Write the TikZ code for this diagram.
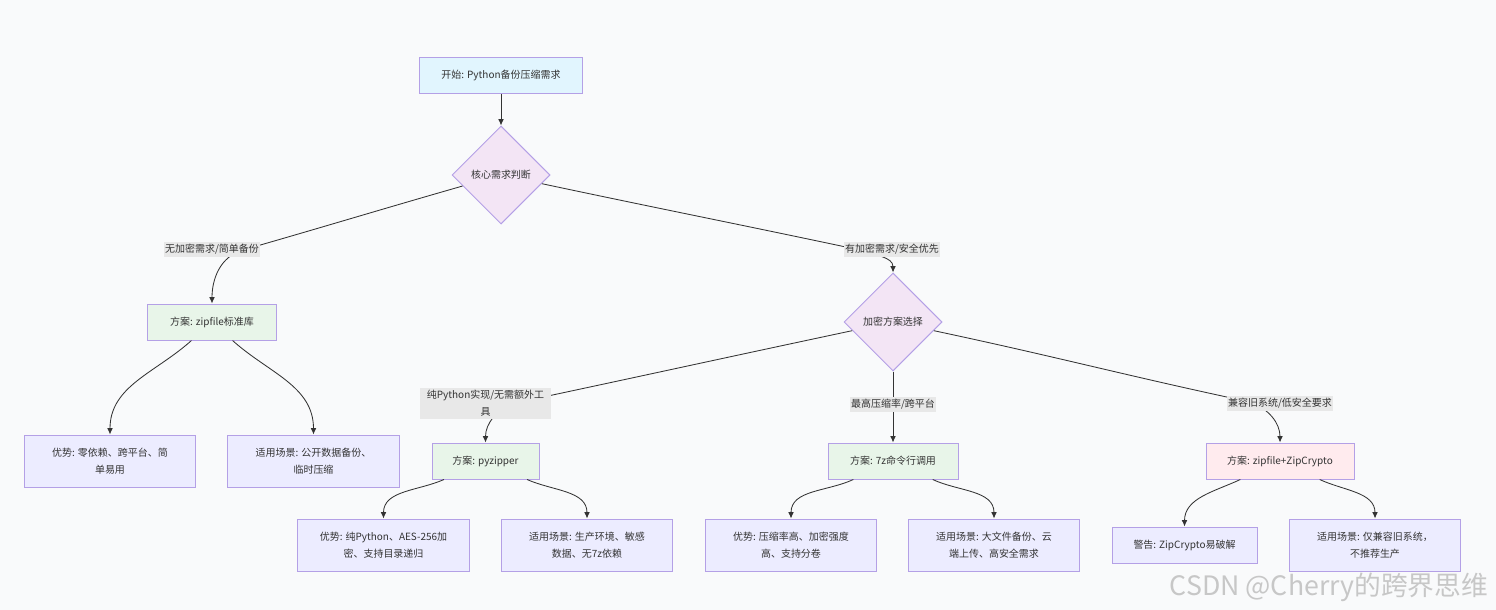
\documentclass[tikz,border=0pt]{standalone}
\usepackage{fontspec}
\setmainfont{Noto Sans CJK SC}
\usetikzlibrary{shapes.geometric, arrows.meta}

\definecolor{bgcol}{HTML}{F9FAFB}
\definecolor{edgecol}{HTML}{333333}
\definecolor{textcol}{HTML}{333333}
\definecolor{bordercol}{HTML}{B4A0E6}
\definecolor{startfill}{HTML}{E1F5FE}
\definecolor{decfill}{HTML}{F3E5F5}
\definecolor{planfill}{HTML}{E8F5E9}
\definecolor{riskfill}{HTML}{FFEBEE}
\definecolor{leaffill}{HTML}{ECECFF}
\definecolor{lblfill}{HTML}{E8E8E8}

\begin{document}
\begin{tikzpicture}[x=0.025cm, y=0.025cm, % 1 unit = 1 px of the reference
    font=\fontsize{7.1}{12}\selectfont,
    box/.style={draw=bordercol, line width=0.7pt, minimum height=0.9cm, inner sep=0pt, align=center, text=textcol},
    leaf/.style={box, fill=leaffill, minimum width=4.275cm, minimum height=1.3cm},
    decision/.style={diamond, aspect=1, draw=bordercol, fill=decfill, line width=0.7pt, minimum size=2.45cm, inner sep=0pt, text=textcol},
    lbl/.style={fill=lblfill, inner xsep=1pt, inner ysep=1.5pt, align=center, text=textcol},
    link/.style={draw=edgecol, line width=0.6pt, -{Latex[length=4.5pt,width=4pt]}}]

    % Background
    \fill[bgcol] (0,0) rectangle (1496,-610);
    \useasboundingbox (0,0) rectangle (1496,-610);

    % Start and first decision
    \node[box, fill=startfill, minimum width=4.05cm] (start) at (501,-75.5) {开始: Python备份压缩需求};
    \node[decision] (core) at (501,-175) {核心需求判断};

    % Second level
    \node[box, fill=planfill, minimum width=3.2cm] (zip) at (212,-322) {方案: zipfile标准库};
    \node[decision] (enc) at (893,-322) {加密方案选择};

    % Plans
    \node[box, fill=planfill, minimum width=2.675cm] (pyz) at (485.5,-461) {方案: pyzipper};
    \node[box, fill=planfill, minimum width=3.25cm] (sevenz) at (893,-461) {方案: 7z命令行调用};
    \node[box, fill=riskfill, minimum width=3.7cm] (zc) at (1280,-461) {方案: zipfile+ZipCrypto};

    % Leaves
    \node[leaf] (adv1) at (110,-461) {优势: 零依赖、跨平台、简\\单易用};
    \node[leaf] (scn1) at (313.5,-461) {适用场景: 公开数据备份、\\临时压缩};
    \node[leaf] (adv2) at (383.5,-545) {优势: 纯Python、AES-256加\\密、支持目录递归};
    \node[leaf] (scn2) at (587,-545) {适用场景: 生产环境、敏感\\数据、无7z依赖};
    \node[leaf] (adv3) at (791,-545) {优势: 压缩率高、加密强度\\高、支持分卷};
    \node[leaf] (scn3) at (994,-545) {适用场景: 大文件备份、云\\端上传、高安全需求};
    \node[box, fill=leaffill, minimum width=3.625cm] (warn) at (1184.5,-545) {警告: ZipCrypto易破解};
    \node[leaf] (scn4) at (1375,-545) {适用场景: 仅兼容旧系统，\\不推荐生产};

    % Bend points of the labelled edges
    \coordinate (m1) at (243,-250);
    \coordinate (m2) at (860,-250);
    \coordinate (m3) at (515,-403);
    \coordinate (m4) at (1250,-402);

    % Edges
    \draw[link] (start) -- (core);
    \draw[link] (core) to[out=196, in=16] (m1) to[out=196, in=90] (zip);
    \draw[link] (core) to[out=-12, in=168] (m2) to[out=-20, in=90] (enc);
    \draw[link] (enc) to[out=192, in=12] (m3) to[out=200, in=90] (pyz);
    \draw[link] (enc) -- (sevenz);
    \draw[link] (enc) to[out=-12, in=168] (m4) to[out=-20, in=90] (zc);
    \foreach \src/\dst/\ang in {zip/adv1/222, zip/scn1/-42, pyz/adv2/204, pyz/scn2/-24,
        sevenz/adv3/205, sevenz/scn3/-25, zc/warn/205, zc/scn4/-25}
        \draw[link] (\src) to[out=\ang, in=90] (\dst);

    % Edge labels
    \node[lbl] (l1) at (212,-249.5) {无加密需求/简单备份};
    \node[lbl] (l2) at (892,-249.5) {有加密需求/安全优先};
    \node[lbl, minimum width=3.275cm] (l3) at (485.5,-403.5) {纯Python实现/无需额外工\\具};
    \node[lbl] (l4) at (893,-404.5) {最高压缩率/跨平台};
    \node[lbl] (l5) at (1280,-403.5) {兼容旧系统/低安全要求};

    % Watermark
    \node[anchor=base east, font=\fontsize{19}{19}\selectfont, text=black!22] (wm) at (1493,-595) {CSDN @Cherry的跨界思维};
\end{tikzpicture}
\end{document}
